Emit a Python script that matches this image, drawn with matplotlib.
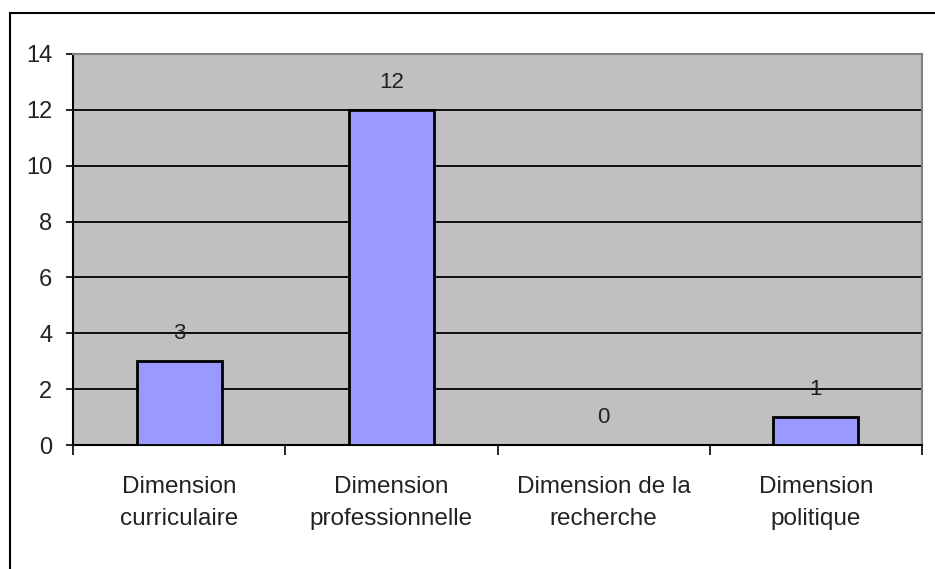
import matplotlib.pyplot as plt
from matplotlib.patches import Rectangle

categories = ["Dimension\ncurriculaire", "Dimension\nprofessionnelle",
              "Dimension de la\nrecherche", "Dimension\npolitique"]
values = [3, 12, 0, 1]
y_ticks = [0, 2, 4, 6, 8, 10, 12, 14]

plt.rcParams['font.family'] = ['Liberation Sans', 'DejaVu Sans']
text_col = '#222222'

fig = plt.figure(figsize=(9.35, 5.69), dpi=100)
# outer chart frame (right/bottom edges run off the picture)
fig.patches.append(Rectangle((10/935, -0.1), 1.0, (569 - 13)/569 + 0.1,
                             transform=fig.transFigure, fill=False,
                             edgecolor='black', linewidth=1.5))

ax = fig.add_axes([73/935, 1 - 445/569, (922 - 73)/935, (445 - 54)/569])
ax.set_facecolor('#C0C0C0')

x = range(len(categories))
ax.bar(x, values, width=0.4, color='#9999FF', edgecolor='black', linewidth=2, zorder=3)
for xi, v in zip(x, values):
    ax.annotate(str(v), (xi, v), xytext=(0, 20), textcoords='offset points',
                ha='center', va='center', fontsize=16, color=text_col)

ax.set_ylim(0, 14)
ax.set_xlim(-0.5, len(categories) - 0.5)
ax.set_yticks(y_ticks)
ax.yaxis.grid(True, color='black', linewidth=1.3, zorder=1)
ax.set_axisbelow(True)
ax.tick_params(axis='y', direction='out', length=5, width=1.2, labelsize=17,
               labelcolor=text_col, pad=10)

ax.set_xticks([i + 0.5 for i in range(-1, len(categories))])
ax.set_xticklabels([])
ax.tick_params(axis='x', direction='out', length=7, width=1.2)
ax.set_xticks(list(x), minor=True)
ax.set_xticklabels(categories, minor=True, fontsize=17.5, color=text_col,
                   linespacing=1.6)
ax.tick_params(axis='x', which='minor', length=0, pad=22)

for s in ['left', 'bottom']:
    ax.spines[s].set_linewidth(1.5)
    ax.spines[s].set_color('black')
for s in ['top', 'right']:
    ax.spines[s].set_color('#808080')
    ax.spines[s].set_linewidth(1.5)

fig.savefig('out.png', dpi=100)
